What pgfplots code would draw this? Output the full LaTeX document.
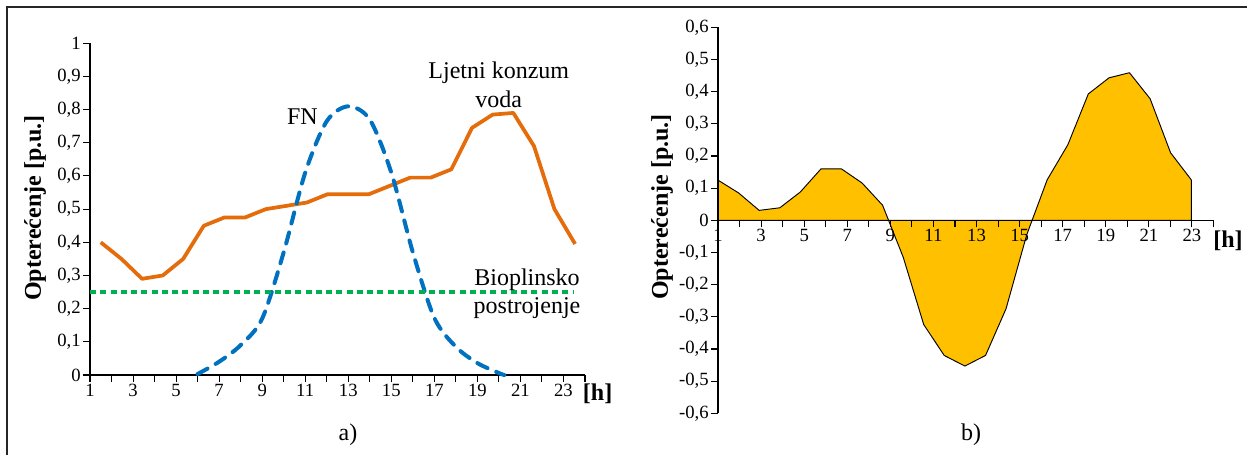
\documentclass[border=0pt]{standalone}
\usepackage{fontspec}
\setmainfont{Liberation Serif}
\usepackage{pgfplots}
\pgfplotsset{compat=1.18}

\definecolor{konzum}{RGB}{228,108,10}
\definecolor{fn}{RGB}{0,112,192}
\definecolor{bio}{RGB}{0,176,80}
\definecolor{razlika}{RGB}{255,192,0}

\pgfplotsset{
  sati/.style={
    scale only axis,
    anchor=south west,
    xmin=1, xmax=24,
    xtick={1,...,24},
    xticklabels={1,,3,,5,,7,,9,,11,,13,,15,,17,,19,,21,,23,},
    tick align=outside,
    major tick length=5.25pt,
    tick style={black, line width=0.8pt},
    axis line style={black, line width=1pt, -},
    tick label style={font=\fontsize{14}{15}\selectfont, inner sep=1.5pt},
    clip=false,
  }
}
\newcommand{\veliki}{\fontsize{18}{20}\selectfont}

\begin{document}
\begin{tikzpicture}
\useasboundingbox (0,0) rectangle (935.25pt,-340.5pt);
\draw[line width=1.3pt, black!85] (5.25pt,-341pt) -- (5.25pt,-5.25pt) -- (936pt,-5.25pt);

% a) dnevni dijagrami
\begin{axis}[sati,
  at={(67.5pt,-281.25pt)}, width=371.25pt, height=248.8pt,
  axis x line*=bottom, axis y line*=left,
  ymin=0, ymax=1,
  ytick={0,0.1,0.2,0.3,0.4,0.5,0.6,0.7,0.8,0.9,1},
  yticklabels={0,{0,1},{0,2},{0,3},{0,4},{0,5},{0,6},{0,7},{0,8},{0,9},1},
]
\addplot[konzum, line width=2.8pt, line join=round] coordinates {
  (1.50,0.400) (2.46,0.350) (3.42,0.290) (4.38,0.300) (5.33,0.350)
  (6.29,0.450) (7.25,0.475) (8.21,0.475) (9.17,0.500) (10.13,0.510)
  (11.08,0.520) (12.04,0.545) (13.00,0.545) (13.96,0.545) (14.92,0.570)
  (15.88,0.595) (16.83,0.595) (17.79,0.620) (18.75,0.745) (19.71,0.785)
  (20.67,0.790) (21.63,0.690) (22.58,0.500) (23.54,0.395)
};
\addplot[fn, line width=3pt, smooth, line cap=round, dash pattern=on 8.5pt off 7pt] coordinates {
  (6,0.003) (7,0.040) (8,0.090) (9,0.170) (10,0.370) (11,0.610)
  (12,0.765) (13,0.810) (14,0.770) (15,0.610) (16,0.370) (17,0.172)
  (18,0.085) (19,0.036) (20,0.006) (20.25,0)
};
\addplot[bio, line width=2.8pt, dash pattern=on 4.5pt off 3.2pt] coordinates {
  (1,0.25) (23.5,0.25)
};
\end{axis}

% b) razlika
\begin{axis}[sati,
  at={(538.5pt,-310pt)}, width=371.6pt, height=289.5pt,
  axis x line*=middle, axis y line*=left,
  xtick align=outside,
  axis on top,
  hide obscured x ticks=false, hide obscured y ticks=false,
  ymin=-0.6, ymax=0.6,
  ytick={-0.6,-0.5,-0.4,-0.3,-0.2,-0.1,0,0.1,0.2,0.3,0.4,0.5,0.6},
  yticklabels={{-0,6},{-0,5},{-0,4},{-0,3},{-0,2},{-0,1},0,{0,1},{0,2},{0,3},{0,4},{0,5},{0,6}},
  xticklabel style={anchor=north},
]
\addplot[fill=razlika, draw=black, line width=0.7pt, line join=round] coordinates {
  (1,0) (1,0.125) (1.96,0.085) (2.91,0.031) (3.87,0.039) (4.82,0.088)
  (5.78,0.160) (6.73,0.160) (7.69,0.116) (8.64,0.047) (9.60,-0.115)
  (10.55,-0.324) (11.50,-0.420) (12.46,-0.453) (13.42,-0.420) (14.37,-0.275)
  (15.33,-0.045) (16.28,0.126) (17.24,0.235) (18.19,0.393) (19.15,0.443)
  (20.10,0.459) (21.06,0.378) (22.01,0.210) (22.97,0.126) (22.97,0)
} -- cycle;
\end{axis}

\node[font=\veliki, anchor=base] at (226.8pt,-93pt) {FN};
\node[font=\veliki, anchor=base] at (374.1pt,-58.7pt) {Ljetni konzum};
\node[font=\veliki, anchor=base] at (374.1pt,-80.25pt) {voda};
\node[font=\veliki, anchor=base] at (395.25pt,-213.75pt) {Bioplinsko};
\node[font=\veliki, anchor=base] at (395.25pt,-234.75pt) {postrojenje};
\node[font=\veliki\bfseries, anchor=base] at (448.2pt,-300pt) {[h]};
\node[font=\veliki, anchor=base] at (261pt,-330pt) {a)};
\node[font=\veliki\bfseries, anchor=base] at (921pt,-185.25pt) {[h]};
\node[font=\veliki, anchor=base] at (728.25pt,-330pt) {b)};
\node[font=\veliki\bfseries, rotate=90] at (26.25pt,-156pt) {Opterećenje [p.u.]};
\node[font=\veliki\bfseries, rotate=90] at (496.5pt,-155.25pt) {Opterećenje [p.u.]};
\end{tikzpicture}
\end{document}
